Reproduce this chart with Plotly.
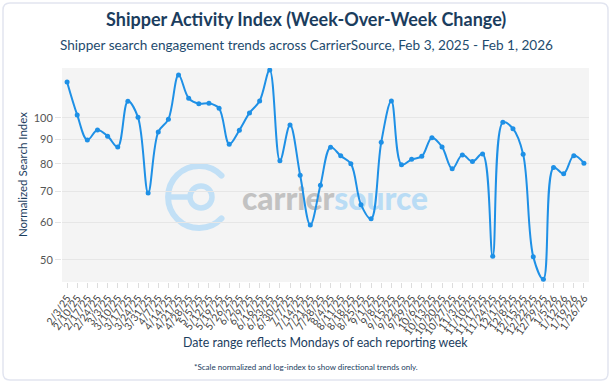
import base64
import plotly.graph_objects as go

dates = ["2/3/25", "2/10/25", "2/17/25", "2/24/25", "3/3/25", "3/10/25", "3/17/25", "3/24/25",
         "3/31/25", "4/7/25", "4/14/25", "4/21/25", "4/28/25", "5/5/25", "5/12/25", "5/19/25",
         "5/26/25", "6/2/25", "6/9/25", "6/16/25", "6/23/25", "6/30/25", "7/7/25", "7/14/25",
         "7/21/25", "7/28/25", "8/4/25", "8/11/25", "8/18/25", "8/25/25", "9/1/25", "9/8/25",
         "9/15/25", "9/22/25", "9/29/25", "10/6/25", "10/13/25", "10/20/25", "10/27/25",
         "11/3/25", "11/10/25", "11/17/25", "11/24/25", "12/1/25", "12/8/25", "12/15/25",
         "12/22/25", "12/29/25", "1/5/26", "1/12/26", "1/19/26", "1/26/26"]

index_values = [119.2, 101.5, 89.8, 94.3, 91.5, 86.8, 108.5, 100.3, 69.3, 93.4,
                99.4, 123.3, 110.1, 107.2, 107.4, 104.8, 88.0, 94.2, 102.5, 108.6,
                126.3, 81.1, 96.6, 75.6, 59.3, 72.0, 86.7, 83.1, 80.0, 65.5,
                61.1, 88.8, 108.6, 79.6, 81.7, 82.9, 90.8, 86.8, 78.0, 83.5,
                80.8, 83.9, 50.9, 97.9, 94.9, 83.8, 50.8, 45.5, 78.5, 76.2,
                83.2, 80.2]

y_ticks = [50, 60, 70, 80, 90, 100]

NAVY = "#1b3d5e"
BLUE = "#1e90e6"
FONT = "Lato"

W, H = 612, 384
L, R, T, B = 62, 589, 68, 282
PW, PH = R - L, B - T


def px(xp):
    return (xp - L) / PW


def py(yp):
    return (B - yp) / PH


fig = go.Figure()
fig.add_trace(go.Scatter(
    x=dates, y=index_values, mode="lines+markers",
    line=dict(color=BLUE, width=2, shape="spline", smoothing=1),
    marker=dict(color=BLUE, size=5),
    hoverinfo="x+y", showlegend=False,
))

# watermark logo (decorative)
svg = f'''<svg xmlns="http://www.w3.org/2000/svg" width="280" height="75" viewBox="0 0 280 75" preserveAspectRatio="none">
<path d="M 61.5 15.6 A 31 31 0 1 0 61.5 58.4" fill="none" stroke="#c2e0f6" stroke-width="6" stroke-linecap="round"/>
<circle cx="41" cy="37" r="11" fill="none" stroke="#c2e0f6" stroke-width="5.5"/>
<line x1="11" y1="37" x2="31" y2="37" stroke="#c2e0f6" stroke-width="5.5"/>
<text x="82" y="50" font-family="Lato, Liberation Sans, Arial" font-weight="900" font-size="33" textLength="186" lengthAdjust="spacingAndGlyphs"><tspan fill="#c2c2c2">carrier</tspan><tspan fill="#b9dcf5">source</tspan></text>
</svg>'''
src = "data:image/svg+xml;base64," + base64.b64encode(svg.encode()).decode()
fig.add_layout_image(dict(
    source=src, xref="x domain", yref="y domain",
    x=px(160), y=py(160), sizex=280 / PW, sizey=75 / PH,
    xanchor="left", yanchor="top", sizing="stretch", layer="below",
))

# rounded border around the card
x0, x1 = px(3), px(608)
y0, y1 = py(380), py(3)
rx, ry = 7 / PW, 7 / PH
path = (f"M {x0+rx} {y1} L {x1-rx} {y1} Q {x1} {y1} {x1} {y1-ry} "
        f"L {x1} {y0+ry} Q {x1} {y0} {x1-rx} {y0} "
        f"L {x0+rx} {y0} Q {x0} {y0} {x0} {y0+ry} "
        f"L {x0} {y1-ry} Q {x0} {y1} {x0+rx} {y1} Z")
fig.add_shape(type="path", path=path, xref="paper", yref="paper",
              line=dict(color="#e2e5f0", width=1.5), layer="below")

annotations = [
    dict(text="<b>Shipper Activity Index (Week-Over-Week Change)</b>", x=px(306), y=py(19),
         font=dict(size=18, color=NAVY, family=FONT)),
    dict(text="Shipper search engagement trends across CarrierSource, Feb 3, 2025 - Feb 1, 2026",
         x=px(306), y=py(45), font=dict(size=13.6, color="#1e4b6e", family=FONT)),
    dict(text="Normalized Search Index", x=px(22), y=0.5, textangle=-90,
         font=dict(size=11.5, color=NAVY, family=FONT)),
    dict(text="Date range reflects Mondays of each reporting week", x=0.5, y=py(342),
         font=dict(size=12.4, color=NAVY, family=FONT)),
    dict(text="*Scale normalized and log-index to show directional trends only.",
         x=px(306), y=py(367), font=dict(size=8, color=NAVY, family=FONT)),
]
for a in annotations:
    a.update(xref="paper", yref="paper", showarrow=False, xanchor="center", yanchor="middle")

fig.update_layout(
    width=W, height=H,
    margin=dict(l=L, r=W - R, t=T, b=H - B),
    paper_bgcolor="white", plot_bgcolor="#f4f4f4",
    font=dict(family=FONT, color="#555"),
    annotations=annotations,
    showlegend=False,
)
fig.update_xaxes(
    type="category", range=[-0.5, len(dates) - 0.5],
    tickmode="array", tickvals=dates, ticktext=dates,
    tickangle=-55, tickfont=dict(size=10.5, color="#444", family=FONT),
    ticks="outside", ticklen=5, tickcolor="#dddddd",
    showgrid=False, zeroline=False, showline=False, automargin=False,
)
fig.update_yaxes(
    type="log", range=[1.6522, 2.1059],
    tickvals=y_ticks, ticktext=[str(v) for v in y_ticks],
    tickfont=dict(size=11, color="#555", family=FONT),
    ticks="outside", ticklen=6, tickcolor="#e4e4e4",
    showgrid=True, gridcolor="#e6e6e6", gridwidth=1,
    zeroline=False, showline=False, automargin=False,
)

fig.write_html("out.html", config={"displayModeBar": False},
               post_script="document.body.style.margin='0';document.body.style.overflow='hidden';")
